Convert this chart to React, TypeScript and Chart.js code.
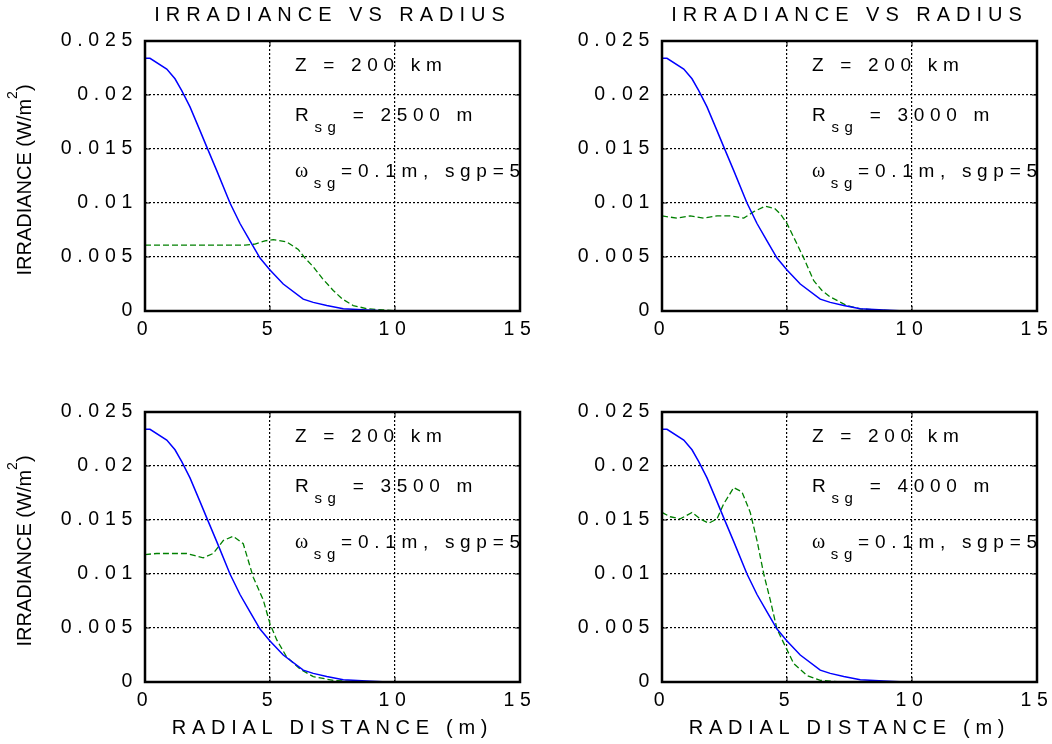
import React, { useEffect, useRef } from 'react';
import { Chart, registerables } from 'chart.js';

Chart.register(...registerables);

const FONT = "'Liberation Sans', Arial, Helvetica, sans-serif";
const SERIF = "'Liberation Serif', 'Times New Roman', serif";

// ---- tick values / labels ----
const xTickValues = [0, 5, 10, 15];
const xTickLabels = ['0', '5', '10', '15'];
const yTickValues = [0, 0.005, 0.01, 0.015, 0.02, 0.025];
const yTickLabels = ['0', '0.005', '0.01', '0.015', '0.02', '0.025'];

// ---- texts ----
const chartTitle = 'IRRADIANCE VS RADIUS';
const xAxisTitle = 'RADIAL DISTANCE (m)';
const yAxisTitleMain = 'IRRADIANCE (W/m';
const yAxisTitleSup = '2';
const yAxisTitleEnd = ')';
const altitudeLabel = 'Z = 200 km';
const rsgValues = ['2500', '3000', '3500', '4000'];
const omegaLabel = '=0.1m, sgp=5';

// ---- blue (solid) curve, identical in all panels ----
const blueX = [0, 0.2, 0.87, 1.2, 1.47, 1.8, 2.2, 2.47, 2.87, 3.4, 3.8, 4.2, 4.6, 5.0, 5.53, 6.33, 6.73, 7.27, 7.93, 8.87, 9.5, 10, 11, 12, 13];
const blueY = [0.0234, 0.0234, 0.0224, 0.0215, 0.0204, 0.0189, 0.0167, 0.0152, 0.013, 0.01, 0.0081, 0.0065, 0.0049, 0.0038, 0.0025, 0.0011, 0.0008, 0.0005, 0.0002, 0.0001, 0.00003, 0, 0, 0, 0];

// ---- green (dashed) curves ----
const green2500X = [0, 1, 2, 3, 4, 4.4, 4.8, 5.13, 5.67, 6.13, 6.4, 6.73, 7.1, 7.53, 7.9, 8.33, 8.9, 9.53, 10, 11, 12, 13];
const green2500Y = [0.0061, 0.0061, 0.0061, 0.0061, 0.0061, 0.0062, 0.0065, 0.0066, 0.0064, 0.0057, 0.0049, 0.0041, 0.003, 0.0019, 0.0011, 0.0005, 0.0002, 0.0001, 0.00003, 0, 0, 0];

const green3000X = [0, 0.6, 1.13, 1.67, 2.2, 2.73, 3.27, 3.67, 4.13, 4.5, 4.73, 5.0, 5.4, 5.67, 6.07, 6.4, 6.73, 7.4, 7.93, 8.73, 9.5, 10, 11, 12, 13];
const green3000Y = [0.0088, 0.0086, 0.0088, 0.0086, 0.0088, 0.0088, 0.0086, 0.0092, 0.0097, 0.0095, 0.009, 0.0081, 0.0062, 0.0049, 0.0028, 0.0019, 0.0013, 0.0005, 0.0002, 0.00006, 0.00002, 0, 0, 0, 0];

const green3500X = [0, 0.47, 1.0, 1.67, 2.0, 2.33, 2.73, 3.13, 3.53, 3.93, 4.33, 4.73, 5.0, 5.27, 5.67, 6.2, 6.73, 7.53, 8.2, 9, 10, 11, 12, 13];
const green3500Y = [0.0118, 0.0119, 0.0119, 0.0119, 0.0117, 0.0115, 0.0119, 0.0131, 0.0135, 0.0128, 0.0097, 0.0076, 0.0054, 0.0039, 0.0023, 0.0012, 0.0005, 0.00015, 0.00005, 0, 0, 0, 0, 0];

const green4000X = [0, 0.33, 0.73, 1.2, 1.53, 1.87, 2.2, 2.47, 2.87, 3.2, 3.53, 3.8, 4.07, 4.33, 4.6, 4.87, 5.27, 5.8, 6.33, 7, 8, 9, 10, 11, 12, 13];
const green4000Y = [0.0157, 0.0153, 0.0151, 0.0157, 0.0151, 0.0147, 0.0151, 0.0165, 0.018, 0.0176, 0.0157, 0.0131, 0.01, 0.0076, 0.0049, 0.0036, 0.0017, 0.0006, 0.00015, 0.00003, 0, 0, 0, 0, 0, 0];

type PanelCfg = {
  gx: number[];
  gy: number[];
  rsg: string;
  left: number;
  top: number;
  yAxisWidth: number;
  padRight: number;
  isTop: boolean;
  isLeft: boolean;
};

const CANVAS_W = 560;
const CANVAS_H = 372;
const SPACING = '5.7px';

const panels: PanelCfg[] = [
  { gx: green2500X, gy: green2500Y, rsg: rsgValues[0], left: 0, top: 0, yAxisWidth: 145, padRight: 40, isTop: true, isLeft: true },
  { gx: green3000X, gy: green3000Y, rsg: rsgValues[1], left: 520, top: 0, yAxisWidth: 142, padRight: 43, isTop: true, isLeft: false },
  { gx: green3500X, gy: green3500Y, rsg: rsgValues[2], left: 0, top: 372, yAxisWidth: 145, padRight: 40, isTop: false, isLeft: true },
  { gx: green4000X, gy: green4000Y, rsg: rsgValues[3], left: 520, top: 372, yAxisWidth: 142, padRight: 43, isTop: false, isLeft: false },
];

type Part = { text: string; font: string; dy?: number };

function drawRich(ctx: CanvasRenderingContext2D, parts: Part[], x: number, y: number) {
  let cx = x;
  for (const p of parts) {
    ctx.font = p.font;
    ctx.fillText(p.text, cx, y + (p.dy || 0));
    cx += ctx.measureText(p.text).width;
  }
}

function makeDecorPlugin(p: PanelCfg) {
  return {
    id: 'panelDecor',
    beforeDraw(chart: any) {
      (chart.ctx as any).letterSpacing = SPACING;
    },
    afterDatasetsDraw(chart: any) {
      const ctx: CanvasRenderingContext2D = chart.ctx;
      const a = chart.chartArea;
      const sx = chart.scales.x;
      const sy = chart.scales.y;

      // annotation text (data coordinates)
      ctx.save();
      (ctx as any).letterSpacing = SPACING;
      ctx.fillStyle = '#000';
      ctx.textAlign = 'left';
      ctx.textBaseline = 'middle';
      const main = `19px ${FONT}`;
      const sub = `15px ${FONT}`;
      const greek = `20px ${SERIF}`;
      const tx = sx.getPixelForValue(6);
      drawRich(ctx, [{ text: altitudeLabel, font: main }], tx, sy.getPixelForValue(0.0227));
      drawRich(
        ctx,
        [
          { text: 'R', font: main },
          { text: 'sg', font: sub, dy: 12 },
          { text: ` = ${p.rsg} m`, font: main },
        ],
        tx,
        sy.getPixelForValue(0.0181)
      );
      drawRich(
        ctx,
        [
          { text: 'ω', font: greek },
          { text: 'sg', font: sub, dy: 12 },
          { text: omegaLabel, font: main },
        ],
        tx,
        sy.getPixelForValue(0.0129)
      );
      ctx.restore();

      // frame + inward tick marks
      ctx.save();
      ctx.setLineDash([]);
      ctx.strokeStyle = '#000';
      ctx.lineWidth = 1;
      ctx.beginPath();
      for (const v of xTickValues) {
        const px = sx.getPixelForValue(v);
        ctx.moveTo(px, a.bottom);
        ctx.lineTo(px, a.bottom - 5);
        ctx.moveTo(px, a.top);
        ctx.lineTo(px, a.top + 5);
      }
      for (const v of yTickValues) {
        const py = sy.getPixelForValue(v);
        ctx.moveTo(a.left, py);
        ctx.lineTo(a.left + 5, py);
        ctx.moveTo(a.right, py);
        ctx.lineTo(a.right - 5, py);
      }
      ctx.stroke();
      ctx.lineWidth = 2.5;
      ctx.strokeRect(a.left, a.top, a.right - a.left, a.bottom - a.top);
      ctx.restore();
    },
    afterDraw(chart: any) {
      const ctx: CanvasRenderingContext2D = chart.ctx;
      const a = chart.chartArea;
      if (p.isTop) {
        ctx.save();
        (ctx as any).letterSpacing = '6px';
        ctx.fillStyle = '#000';
        ctx.font = `20px ${FONT}`;
        ctx.textAlign = 'center';
        ctx.textBaseline = 'middle';
        ctx.fillText(chartTitle, (a.left + a.right) / 2, 15);
        ctx.restore();
      }
      if (p.isLeft) {
        ctx.save();
        (ctx as any).letterSpacing = '0px';
        ctx.fillStyle = '#000';
        ctx.textAlign = 'left';
        ctx.textBaseline = 'middle';
        ctx.translate(25.5, (a.top + a.bottom) / 2 + 4);
        ctx.rotate(-Math.PI / 2);
        const big = `20px ${FONT}`;
        const small = `14px ${FONT}`;
        ctx.font = big;
        const w1 = ctx.measureText(yAxisTitleMain).width;
        const w3 = ctx.measureText(yAxisTitleEnd).width;
        ctx.font = small;
        const w2 = ctx.measureText(yAxisTitleSup).width;
        let x = -(w1 + w2 + w3) / 2;
        ctx.font = big;
        ctx.fillText(yAxisTitleMain, x, 0);
        x += w1;
        ctx.font = small;
        ctx.fillText(yAxisTitleSup, x, -12.5);
        x += w2;
        ctx.font = big;
        ctx.fillText(yAxisTitleEnd, x, 0);
        ctx.restore();
      }
    },
  };
}

function Panel({ p }: { p: PanelCfg }) {
  const ref = useRef<HTMLCanvasElement>(null);
  useEffect(() => {
    const canvas = ref.current;
    if (!canvas) return;
    const chart = new Chart(canvas, {
      type: 'line',
      data: {
        datasets: [
          {
            data: blueX.map((x, i) => ({ x, y: blueY[i] })),
            borderColor: '#0000ff',
            borderWidth: 1.5,
            pointRadius: 0,
            tension: 0,
            fill: false,
          },
          {
            data: p.gx.map((x, i) => ({ x, y: p.gy[i] })),
            borderColor: '#008000',
            borderWidth: 1.3,
            borderDash: [6, 3],
            pointRadius: 0,
            tension: 0,
            fill: false,
          },
        ],
      },
      options: {
        responsive: false,
        animation: false,
        devicePixelRatio: 1,
        events: [],
        layout: {
          padding: { left: 0, right: p.padRight, top: p.isTop ? 41 : 40, bottom: p.isTop ? 21 : 0 },
        },
        plugins: {
          legend: { display: false },
          title: { display: false },
          tooltip: { enabled: false },
        },
        scales: {
          x: {
            type: 'linear',
            min: 0,
            max: 15,
            afterBuildTicks: (s: any) => {
              s.ticks = xTickValues.map((v) => ({ value: v }));
            },
            afterFit: (s: any) => {
              s.height = p.isTop ? 40 : 62;
            },
            ticks: {
              callback: (_v: any, i: number) => xTickLabels[i],
              font: { family: FONT, size: 19.5 },
              color: '#000',
              padding: 7,
              maxRotation: 0,
              autoSkip: false,
            },
            grid: { color: '#000', lineWidth: 1.2, drawTicks: false },
            border: { display: false, dash: [2, 2] },
            title: {
              display: !p.isTop,
              text: xAxisTitle,
              font: { family: FONT, size: 20 },
              color: '#000',
              padding: { top: 0, bottom: 4 },
            },
          },
          y: {
            type: 'linear',
            min: 0,
            max: 0.025,
            afterBuildTicks: (s: any) => {
              s.ticks = yTickValues.map((v) => ({ value: v }));
            },
            afterFit: (s: any) => {
              s.width = p.yAxisWidth;
            },
            ticks: {
              callback: (_v: any, i: number) => yTickLabels[i],
              font: { family: FONT, size: 19.5 },
              color: '#000',
              padding: 7,
            },
            grid: { color: '#000', lineWidth: 1.2, drawTicks: false },
            border: { display: false, dash: [2, 2] },
          },
        },
      } as any,
      plugins: [makeDecorPlugin(p) as any],
    });
    return () => chart.destroy();
  }, [p]);
  return (
    <canvas
      ref={ref}
      width={CANVAS_W}
      height={CANVAS_H}
      style={{ position: 'absolute', left: p.left, top: p.top, width: CANVAS_W, height: CANVAS_H }}
    />
  );
}

export default function App() {
  return (
    <div
      style={{
        position: 'absolute',
        left: 0,
        top: 0,
        width: 1052,
        height: 744,
        overflow: 'hidden',
        background: '#fff',
      }}
    >
      {panels.map((p, i) => (
        <Panel key={i} p={p} />
      ))}
    </div>
  );
}
